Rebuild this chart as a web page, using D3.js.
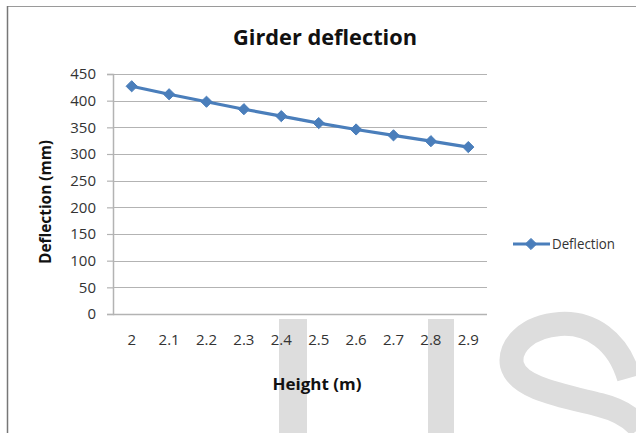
<!DOCTYPE html>
<html><head><meta charset="utf-8">
<script src="https://cdn.jsdelivr.net/npm/d3@7"></script>
<style>body{margin:0;background:#fff}svg{display:block}</style>
</head><body>
<script>
const categories = ["2","2.1","2.2","2.3","2.4","2.5","2.6","2.7","2.8","2.9"];
const deflection = [427, 412, 398, 384, 371, 358, 346, 335, 324, 313];
const yTicks = [0,50,100,150,200,250,300,350,400,450];
const seriesName = "Deflection";

(function () {
const W = 636, H = 433;
const svg = d3.select("body").append("svg").attr("width", W).attr("height", H);
const font = "'Open Sans', sans-serif";

// watermark
const wm = svg.append("g").attr("fill", "#dddddd").attr("stroke", "#dddddd");
wm.append("rect").attr("x", 279).attr("y", 319).attr("width", 28).attr("height", 120).attr("stroke", "none");
wm.append("rect").attr("x", 428).attr("y", 319).attr("width", 26).attr("height", 120).attr("stroke", "none");
wm.append("path").attr("fill", "none").attr("stroke-width", 24)
  .attr("d", "M629,378 C618,340 590,322 560,324 C528,326 508,346 512,365 C518,388 560,395 600,405 C620,410 632,418 640,428");

// frame
svg.append("line").attr("x1", 7).attr("x2", W).attr("y1", 6.5).attr("y2", 6.5).attr("stroke", "#9a9a9a").attr("stroke-width", 1);
svg.append("line").attr("x1", 7.5).attr("x2", 7.5).attr("y1", 6).attr("y2", H).attr("stroke", "#777").attr("stroke-width", 1.5);

const pl = 113, pr = 487, pt = 74, pb = 314;
const x = d3.scaleBand().domain(categories).range([pl, pr]);
const y = d3.scaleLinear().domain([0, 450]).range([pb, pt]);

// gridlines
svg.append("g").selectAll("line").data(yTicks.filter(d => d > 0)).join("line")
  .attr("x1", pl).attr("x2", pr).attr("y1", d => Math.round(y(d)) + 0.5).attr("y2", d => Math.round(y(d)) + 0.5)
  .attr("stroke", "#b3b3b3").attr("stroke-width", 1.2);

// y axis
const yAxis = svg.append("g").attr("transform", `translate(${pl},0)`)
  .call(d3.axisLeft(y).tickValues(yTicks).tickSize(6).tickPadding(11).tickFormat(d3.format("d")));
yAxis.select(".domain").attr("stroke", "#b3b3b3").attr("stroke-width", 1.5);
yAxis.selectAll(".tick line").attr("stroke", "#b3b3b3").attr("stroke-width", 1.2);
yAxis.selectAll("text").attr("font-family", font).attr("font-size", 15).attr("fill", "#333");

// x axis
const xAxis = svg.append("g").attr("transform", `translate(0,${pb})`)
  .call(d3.axisBottom(x).tickSize(0).tickPadding(20));
xAxis.select(".domain").attr("stroke", "#b3b3b3").attr("stroke-width", 1.5).attr("d", `M${pl},0.5H${pr}`);
xAxis.selectAll("text").attr("font-family", font).attr("font-size", 15).attr("fill", "#333");

// line
const color = "#4a7ebb";
const line = d3.line().x((d, i) => x(categories[i]) + x.bandwidth() / 2).y(d => y(d));
svg.append("path").datum(deflection).attr("d", line).attr("fill", "none")
  .attr("stroke", color).attr("stroke-width", 3.2).attr("stroke-linejoin", "round");
const diamond = d3.symbol().type(d3.symbolDiamond2).size(80);
svg.append("g").selectAll("path").data(deflection).join("path")
  .attr("d", diamond)
  .attr("transform", (d, i) => `translate(${x(categories[i]) + x.bandwidth() / 2},${y(d)})`)
  .attr("fill", color).attr("stroke", color).attr("stroke-width", 1);

// titles
svg.append("text").attr("x", 325).attr("y", 45).attr("text-anchor", "middle")
  .attr("font-family", font).attr("font-weight", "bold").attr("font-size", 22)
  .attr("textLength", 184).attr("lengthAdjust", "spacingAndGlyphs").attr("fill", "#111")
  .text("Girder deflection");
svg.append("text").attr("x", 317).attr("y", 390).attr("text-anchor", "middle")
  .attr("font-family", font).attr("font-weight", "bold").attr("font-size", 16)
  .attr("textLength", 89).attr("lengthAdjust", "spacingAndGlyphs").attr("fill", "#111")
  .text("Height (m)");
svg.append("text").attr("transform", "translate(51,202) rotate(-90)").attr("text-anchor", "middle")
  .attr("font-family", font).attr("font-weight", "bold").attr("font-size", 16)
  .attr("textLength", 124).attr("lengthAdjust", "spacingAndGlyphs").attr("fill", "#111")
  .text("Deflection (mm)");

// legend
const lg = svg.append("g");
lg.append("line").attr("x1", 513).attr("x2", 550).attr("y1", 244).attr("y2", 244).attr("stroke", color).attr("stroke-width", 3.2);
lg.append("path").attr("d", diamond).attr("transform", "translate(531,244)").attr("fill", color).attr("stroke", color);
lg.append("text").attr("x", 552).attr("y", 249).attr("font-family", font).attr("font-size", 14)
  .attr("textLength", 63).attr("lengthAdjust", "spacingAndGlyphs").attr("fill", "#333").text(seriesName);
})();
</script>
</body></html>
